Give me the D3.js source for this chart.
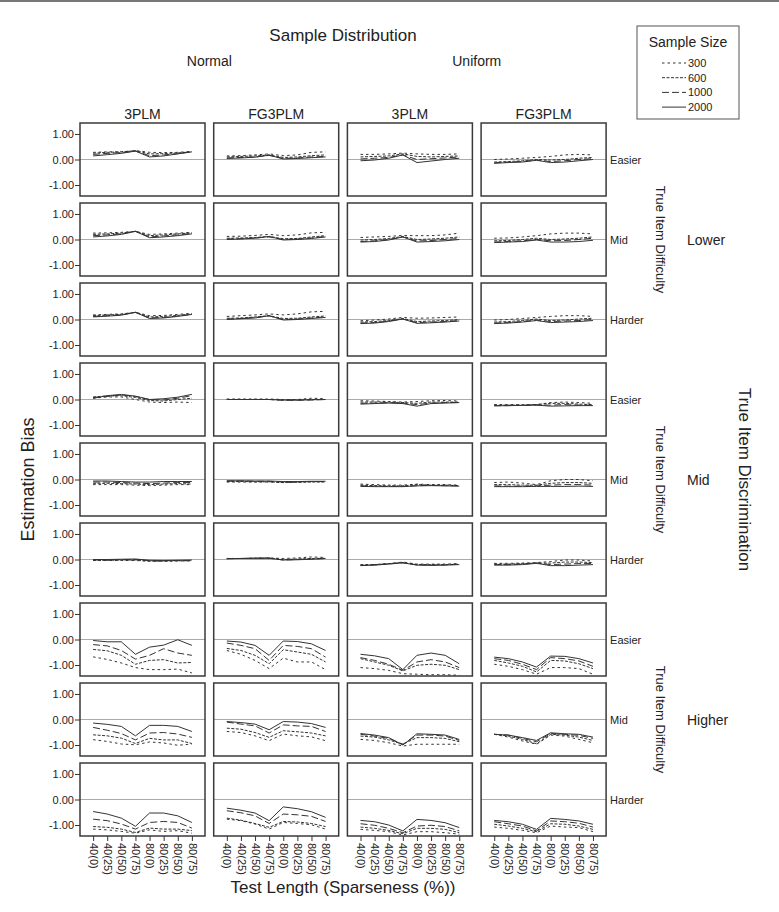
<!DOCTYPE html>
<html>
<head>
<meta charset="utf-8">
<script src="https://cdn.jsdelivr.net/npm/d3@7"></script>
<style>
  body { margin: 0; background: #fff; }
  svg { font-family: "Liberation Sans", Arial, sans-serif; }
</style>
</head>
<body>
<div id="chart"></div>
<script>
// categories
const testLengths = ["40(0)", "40(25)", "40(50)", "40(75)", "80(0)", "80(25)", "80(50)", "80(75)"];
const sampleSizes = ["300", "600", "1000", "2000"];
const distributions = ["Normal", "Uniform"];
const models = ["3PLM", "FG3PLM"];
const discriminations = ["Lower", "Mid", "Higher"];
const difficulties = ["Easier", "Mid", "Harder"];
const yTicks = [1, 0, -1];

// bias values: [Normal 3PLM, Normal FG3PLM, Uniform 3PLM, Uniform FG3PLM] x [300, 600, 1000, 2000] x testLengths
const lowerEasier = [
  [[0.28, 0.30, 0.30, 0.35, 0.28, 0.27, 0.28, 0.32], [0.25, 0.28, 0.30, 0.34, 0.22, 0.23, 0.26, 0.30], [0.20, 0.24, 0.27, 0.33, 0.15, 0.18, 0.23, 0.30], [0.14, 0.19, 0.24, 0.33, 0.10, 0.14, 0.22, 0.30]],
  [[0.14, 0.15, 0.18, 0.22, 0.15, 0.18, 0.28, 0.30], [0.10, 0.12, 0.14, 0.18, 0.08, 0.10, 0.15, 0.18], [0.06, 0.08, 0.10, 0.16, 0.04, 0.06, 0.10, 0.12], [0.04, 0.06, 0.09, 0.17, 0.02, 0.04, 0.07, 0.10]],
  [[0.20, 0.20, 0.22, 0.25, 0.22, 0.20, 0.20, 0.22], [0.10, 0.12, 0.14, 0.22, 0.12, 0.10, 0.12, 0.14], [0.02, 0.05, 0.08, 0.18, 0.00, 0.03, 0.06, 0.10], [-0.05, -0.02, 0.05, 0.18, -0.12, -0.06, 0.00, 0.05]],
  [[0.00, 0.02, 0.05, 0.08, 0.12, 0.18, 0.20, 0.18], [-0.10, -0.08, -0.05, 0.00, -0.02, 0.00, 0.05, 0.08], [-0.13, -0.10, -0.08, -0.02, -0.08, -0.05, 0.00, 0.03], [-0.15, -0.12, -0.10, -0.03, -0.12, -0.10, -0.05, 0.00]]
];
const lowerMid = [
  [[0.25, 0.26, 0.28, 0.32, 0.20, 0.22, 0.25, 0.28], [0.20, 0.22, 0.25, 0.32, 0.15, 0.18, 0.22, 0.26], [0.15, 0.18, 0.22, 0.32, 0.10, 0.14, 0.18, 0.24], [0.10, 0.14, 0.20, 0.32, 0.07, 0.10, 0.15, 0.22]],
  [[0.12, 0.13, 0.16, 0.20, 0.15, 0.18, 0.26, 0.28], [0.05, 0.06, 0.08, 0.12, 0.03, 0.04, 0.10, 0.15], [0.02, 0.03, 0.06, 0.10, 0.00, 0.02, 0.06, 0.12], [0.00, 0.02, 0.05, 0.12, -0.02, 0.00, 0.04, 0.10]],
  [[0.08, 0.10, 0.12, 0.16, 0.15, 0.15, 0.18, 0.25], [-0.02, 0.00, 0.04, 0.12, 0.00, 0.02, 0.05, 0.10], [-0.08, -0.05, 0.00, 0.10, -0.06, -0.04, 0.00, 0.04], [-0.10, -0.08, -0.02, 0.10, -0.10, -0.08, -0.05, 0.00]],
  [[0.05, 0.06, 0.10, 0.15, 0.22, 0.25, 0.25, 0.22], [-0.05, -0.04, 0.00, 0.05, 0.00, 0.02, 0.05, 0.10], [-0.10, -0.08, -0.05, 0.00, -0.05, -0.04, 0.00, 0.05], [-0.12, -0.10, -0.08, -0.02, -0.10, -0.10, -0.08, -0.03]]
];
const lowerHarder = [
  [[0.18, 0.20, 0.22, 0.28, 0.15, 0.16, 0.20, 0.24], [0.15, 0.18, 0.20, 0.28, 0.10, 0.12, 0.16, 0.22], [0.12, 0.15, 0.18, 0.28, 0.06, 0.08, 0.14, 0.20], [0.10, 0.13, 0.17, 0.28, 0.04, 0.06, 0.12, 0.20]],
  [[0.12, 0.15, 0.18, 0.22, 0.18, 0.22, 0.30, 0.32], [0.05, 0.06, 0.10, 0.15, 0.04, 0.05, 0.10, 0.14], [0.02, 0.04, 0.08, 0.14, 0.00, 0.02, 0.06, 0.10], [0.00, 0.03, 0.06, 0.15, -0.02, 0.00, 0.04, 0.08]],
  [[-0.05, -0.02, 0.02, 0.08, 0.05, 0.06, 0.08, 0.10], [-0.10, -0.08, -0.04, 0.04, -0.08, -0.06, -0.04, 0.00], [-0.14, -0.12, -0.06, 0.02, -0.12, -0.10, -0.08, -0.04], [-0.16, -0.14, -0.08, 0.02, -0.15, -0.13, -0.10, -0.06]],
  [[-0.02, 0.00, 0.04, 0.08, 0.12, 0.15, 0.15, 0.12], [-0.10, -0.08, -0.04, 0.02, -0.04, -0.02, 0.02, 0.05], [-0.14, -0.12, -0.08, -0.02, -0.08, -0.06, -0.04, 0.00], [-0.16, -0.14, -0.10, -0.04, -0.12, -0.10, -0.08, -0.04]]
];
const midEasier = [
  [[0.05, 0.10, 0.10, 0.00, -0.10, -0.12, -0.10, -0.12], [0.10, 0.14, 0.15, 0.08, -0.04, -0.06, 0.00, 0.05], [0.08, 0.12, 0.18, 0.12, 0.00, -0.02, 0.05, 0.15], [0.05, 0.15, 0.20, 0.13, 0.00, 0.03, 0.09, 0.20]],
  [[0.02, 0.02, 0.02, 0.02, 0.00, 0.00, 0.05, 0.03], [0.00, 0.00, 0.00, 0.00, -0.02, -0.02, 0.00, 0.00], [0.00, 0.00, 0.00, 0.00, -0.03, -0.03, -0.02, 0.00], [0.00, 0.00, 0.00, 0.00, -0.02, -0.02, -0.01, 0.00]],
  [[-0.05, -0.06, -0.08, -0.10, -0.08, -0.05, -0.04, -0.06], [-0.10, -0.10, -0.10, -0.12, -0.15, -0.10, -0.10, -0.10], [-0.15, -0.14, -0.12, -0.14, -0.20, -0.14, -0.12, -0.12], [-0.18, -0.16, -0.14, -0.16, -0.26, -0.16, -0.14, -0.12]],
  [[-0.20, -0.20, -0.20, -0.20, -0.12, -0.10, -0.12, -0.15], [-0.22, -0.22, -0.22, -0.20, -0.15, -0.15, -0.18, -0.20], [-0.24, -0.24, -0.23, -0.22, -0.22, -0.20, -0.22, -0.22], [-0.25, -0.24, -0.23, -0.22, -0.26, -0.25, -0.24, -0.24]]
];
const midMid = [
  [[-0.20, -0.20, -0.20, -0.22, -0.24, -0.22, -0.20, -0.20], [-0.15, -0.15, -0.16, -0.18, -0.20, -0.18, -0.16, -0.18], [-0.10, -0.10, -0.12, -0.14, -0.16, -0.14, -0.12, -0.12], [-0.06, -0.06, -0.08, -0.10, -0.10, -0.08, -0.08, -0.08]],
  [[-0.10, -0.10, -0.10, -0.10, -0.12, -0.10, -0.08, -0.08], [-0.08, -0.08, -0.09, -0.09, -0.12, -0.11, -0.10, -0.10], [-0.06, -0.06, -0.07, -0.07, -0.10, -0.09, -0.08, -0.08], [-0.05, -0.05, -0.06, -0.06, -0.08, -0.08, -0.07, -0.07]],
  [[-0.18, -0.20, -0.22, -0.22, -0.18, -0.20, -0.20, -0.22], [-0.22, -0.24, -0.25, -0.25, -0.20, -0.22, -0.22, -0.24], [-0.25, -0.26, -0.27, -0.27, -0.24, -0.23, -0.24, -0.25], [-0.27, -0.28, -0.28, -0.28, -0.25, -0.24, -0.25, -0.26]],
  [[-0.12, -0.10, -0.14, -0.20, -0.05, 0.00, 0.00, -0.05], [-0.20, -0.20, -0.22, -0.22, -0.15, -0.12, -0.12, -0.15], [-0.25, -0.26, -0.26, -0.25, -0.22, -0.20, -0.20, -0.22], [-0.28, -0.28, -0.28, -0.27, -0.27, -0.27, -0.26, -0.27]]
];
const midHarder = [
  [[-0.04, -0.04, -0.04, -0.04, -0.07, -0.07, -0.06, -0.05], [-0.03, -0.03, -0.02, -0.02, -0.06, -0.06, -0.05, -0.05], [-0.02, -0.02, -0.01, 0.00, -0.05, -0.05, -0.04, -0.04], [0.00, 0.00, 0.01, 0.02, -0.03, -0.04, -0.03, -0.02]],
  [[0.04, 0.04, 0.05, 0.06, 0.04, 0.06, 0.10, 0.08], [0.04, 0.04, 0.05, 0.06, 0.00, 0.02, 0.04, 0.05], [0.03, 0.04, 0.05, 0.05, -0.02, 0.00, 0.02, 0.04], [0.03, 0.04, 0.05, 0.05, -0.02, -0.01, 0.01, 0.04]],
  [[-0.20, -0.20, -0.16, -0.10, -0.18, -0.18, -0.18, -0.16], [-0.22, -0.20, -0.16, -0.12, -0.20, -0.20, -0.20, -0.18], [-0.23, -0.21, -0.17, -0.13, -0.21, -0.22, -0.21, -0.19], [-0.24, -0.22, -0.18, -0.13, -0.22, -0.23, -0.22, -0.20]],
  [[-0.15, -0.15, -0.14, -0.12, -0.08, -0.02, -0.02, -0.06], [-0.18, -0.18, -0.16, -0.14, -0.14, -0.10, -0.10, -0.12], [-0.20, -0.20, -0.18, -0.14, -0.20, -0.18, -0.16, -0.16], [-0.22, -0.22, -0.20, -0.15, -0.24, -0.24, -0.22, -0.20]]
];
const higherEasier = [
  [[-0.68, -0.78, -0.92, -1.10, -1.18, -1.18, -1.16, -1.31], [-0.39, -0.44, -0.62, -0.97, -0.82, -0.79, -0.92, -0.90], [-0.20, -0.25, -0.43, -0.77, -0.62, -0.36, -0.53, -0.62], [-0.04, -0.09, -0.09, -0.58, -0.30, -0.22, -0.01, -0.23]],
  [[-0.43, -0.58, -0.82, -1.14, -0.73, -0.88, -0.88, -1.18], [-0.35, -0.43, -0.62, -0.95, -0.40, -0.49, -0.58, -0.88], [-0.14, -0.23, -0.36, -0.82, -0.23, -0.27, -0.36, -0.69], [-0.06, -0.10, -0.23, -0.62, -0.06, -0.08, -0.17, -0.43]],
  [[-1.10, -1.14, -1.21, -1.34, -1.36, -1.38, -1.38, -1.40], [-0.75, -0.88, -1.01, -1.23, -1.01, -0.97, -1.01, -1.18], [-0.71, -0.82, -0.97, -1.21, -0.88, -0.79, -0.88, -1.10], [-0.58, -0.64, -0.75, -1.18, -0.62, -0.53, -0.62, -0.95]],
  [[-0.97, -1.05, -1.18, -1.36, -1.10, -1.10, -1.14, -1.36], [-0.82, -0.92, -1.05, -1.27, -0.82, -0.84, -0.95, -1.14], [-0.75, -0.82, -0.97, -1.18, -0.71, -0.75, -0.84, -1.05], [-0.69, -0.75, -0.88, -1.08, -0.65, -0.66, -0.75, -0.92]]
];
const higherMid = [
  [[-0.79, -0.86, -0.96, -0.99, -0.88, -0.92, -1.01, -0.96], [-0.60, -0.64, -0.73, -0.94, -0.74, -0.80, -0.80, -0.94], [-0.31, -0.42, -0.55, -0.80, -0.53, -0.51, -0.57, -0.70], [-0.14, -0.19, -0.27, -0.64, -0.23, -0.23, -0.27, -0.47]],
  [[-0.47, -0.51, -0.64, -0.83, -0.57, -0.64, -0.68, -0.83], [-0.34, -0.38, -0.51, -0.70, -0.44, -0.48, -0.53, -0.64], [-0.10, -0.18, -0.25, -0.53, -0.21, -0.25, -0.27, -0.47], [-0.08, -0.12, -0.18, -0.40, -0.08, -0.10, -0.16, -0.31]],
  [[-0.78, -0.82, -0.91, -1.04, -0.97, -0.97, -0.97, -0.97], [-0.65, -0.69, -0.80, -0.97, -0.71, -0.71, -0.74, -0.87], [-0.58, -0.65, -0.74, -0.97, -0.61, -0.61, -0.65, -0.82], [-0.55, -0.61, -0.71, -1.00, -0.56, -0.58, -0.61, -0.78]],
  [[-0.58, -0.69, -0.84, -0.97, -0.61, -0.65, -0.78, -0.91], [-0.58, -0.65, -0.78, -0.95, -0.58, -0.61, -0.69, -0.82], [-0.58, -0.61, -0.74, -0.87, -0.55, -0.58, -0.62, -0.74], [-0.58, -0.61, -0.71, -0.82, -0.52, -0.56, -0.58, -0.69]]
];
const higherHarder = [
  [[-1.16, -1.19, -1.25, -1.32, -1.19, -1.25, -1.22, -1.32], [-1.06, -1.09, -1.16, -1.29, -1.12, -1.16, -1.16, -1.22], [-0.77, -0.83, -0.96, -1.16, -0.90, -0.86, -0.90, -1.12], [-0.47, -0.57, -0.73, -1.05, -0.53, -0.53, -0.64, -0.90]],
  [[-0.77, -0.83, -0.96, -1.16, -0.90, -0.94, -0.99, -1.16], [-0.73, -0.81, -0.94, -1.09, -0.86, -0.88, -0.94, -1.06], [-0.44, -0.52, -0.64, -0.94, -0.57, -0.60, -0.66, -0.86], [-0.34, -0.42, -0.53, -0.83, -0.29, -0.36, -0.48, -0.70]],
  [[-1.17, -1.21, -1.26, -1.39, -1.26, -1.26, -1.30, -1.36], [-1.08, -1.13, -1.21, -1.34, -1.13, -1.13, -1.17, -1.30], [-0.95, -1.01, -1.13, -1.30, -1.04, -1.01, -1.06, -1.23], [-0.82, -0.87, -1.00, -1.23, -0.78, -0.82, -0.91, -1.10]],
  [[-1.08, -1.13, -1.21, -1.30, -1.04, -1.08, -1.10, -1.26], [-0.97, -1.04, -1.13, -1.26, -0.95, -0.97, -1.04, -1.17], [-0.87, -0.95, -1.04, -1.23, -0.84, -0.87, -0.93, -1.08], [-0.82, -0.87, -0.97, -1.17, -0.74, -0.78, -0.84, -0.97]]
];

const panelRows = [lowerEasier, lowerMid, lowerHarder, midEasier, midMid, midHarder, higherEasier, higherMid, higherHarder];

// layout
const width = 779, height = 912;
const panelW = 125, panelH = 73;
const left0 = 80, top0 = 123, colStep = 133.7, rowStep = 80;
const dashes = ["2.5,3", "3,1.5", "7,3", null];
const lineColor = "#333";

const svg = d3.select("#chart").append("svg")
  .attr("width", width)
  .attr("height", height);

// thin grey rule at the very top
svg.append("rect").attr("x", 0).attr("y", 0).attr("width", width).attr("height", 2).attr("fill", "#777");

const x = d3.scalePoint().domain(testLengths).range([0, panelW]).padding(0.93);
const y = d3.scaleLinear().domain([-1.43, 1.43]).range([panelH, 0]);

const line = d3.line()
  .x((d, i) => x(testLengths[i]))
  .y(d => y(d));

const nCols = distributions.length * models.length;

panelRows.forEach((rowData, r) => {
  for (let c = 0; c < nCols; c++) {
    const g = svg.append("g")
      .attr("transform", `translate(${left0 + c * colStep},${top0 + r * rowStep})`);

    g.append("rect")
      .attr("width", panelW).attr("height", panelH)
      .attr("fill", "#fff");

    // zero reference line
    g.append("line")
      .attr("x1", 0).attr("x2", panelW)
      .attr("y1", y(0)).attr("y2", y(0))
      .attr("stroke", "#aaa").attr("stroke-width", 1);

    g.selectAll(".series")
      .data(rowData[c])
      .join("path")
      .attr("class", "series")
      .attr("d", line)
      .attr("fill", "none")
      .attr("stroke", lineColor)
      .attr("stroke-width", 1)
      .attr("stroke-dasharray", (d, i) => dashes[i]);

    g.append("rect")
      .attr("width", panelW).attr("height", panelH)
      .attr("fill", "none")
      .attr("stroke", "#3a3a3a").attr("stroke-width", 1.5);

    // y axis on the first column
    if (c === 0) {
      const ay = g.append("g")
        .call(d3.axisLeft(y).tickValues(yTicks).tickSize(5).tickFormat(d => d.toFixed(2)));
      ay.select(".domain").remove();
      ay.selectAll("line").attr("stroke", "#333");
      ay.selectAll("text").style("font-size", "11px").attr("fill", "#222").attr("x", -6);
    }

    // x axis on the bottom row
    if (r === panelRows.length - 1) {
      const ax = g.append("g")
        .attr("transform", `translate(0,${panelH})`)
        .call(d3.axisBottom(x).tickSize(5));
      ax.select(".domain").remove();
      ax.selectAll("line").attr("stroke", "#333");
      ax.selectAll("text")
        .attr("transform", "rotate(90)")
        .attr("x", 7).attr("y", 0).attr("dy", "0.35em")
        .style("text-anchor", "start")
        .style("font-size", "11px")
        .attr("fill", "#222");
    }
  }

  // difficulty label on the right
  svg.append("text")
    .attr("x", left0 + (nCols - 1) * colStep + panelW + 4)
    .attr("y", top0 + r * rowStep + panelH / 2 + 4)
    .style("font-size", "11px").attr("fill", "#222")
    .text(difficulties[r % 3]);
});

// group labels on the right
discriminations.forEach((lab, k) => {
  const cy = top0 + (k * 3 + 1) * rowStep + panelH / 2;
  svg.append("text")
    .attr("transform", `translate(661,${cy}) rotate(90)`)
    .attr("dy", "0.35em")
    .attr("text-anchor", "middle")
    .style("font-size", "13px").attr("fill", "#222")
    .text("True Item Difficulty");
  svg.append("text")
    .attr("x", 687).attr("y", cy + 5)
    .style("font-size", "14px").attr("fill", "#222")
    .text(lab);
});

const gridMidY = top0 + ((panelRows.length - 1) * rowStep + panelH) / 2;
const gridMidX = left0 + ((nCols - 1) * colStep + panelW) / 2;

svg.append("text")
  .attr("transform", `translate(745,${gridMidY}) rotate(90)`)
  .attr("dy", "0.35em")
  .attr("text-anchor", "middle")
  .style("font-size", "17px").attr("fill", "#222")
  .text("True Item Discrimination");

svg.append("text")
  .attr("transform", `translate(28,${gridMidY}) rotate(-90)`)
  .attr("dy", "0.35em")
  .attr("text-anchor", "middle")
  .style("font-size", "18px").attr("fill", "#222")
  .text("Estimation Bias");

// top headers
svg.append("text")
  .attr("x", gridMidX).attr("y", 41)
  .attr("text-anchor", "middle")
  .style("font-size", "17px").attr("fill", "#222")
  .text("Sample Distribution");

distributions.forEach((dist, k) => {
  const cx = left0 + k * 2 * colStep + (colStep + panelW) / 2;
  svg.append("text")
    .attr("x", cx).attr("y", 66)
    .attr("text-anchor", "middle")
    .style("font-size", "14px").attr("fill", "#222")
    .text(dist);
  models.forEach((m, j) => {
    svg.append("text")
      .attr("x", left0 + (k * 2 + j) * colStep + panelW / 2).attr("y", 119)
      .attr("text-anchor", "middle")
      .style("font-size", "14px").attr("fill", "#222")
      .text(m);
  });
});

svg.append("text")
  .attr("x", gridMidX).attr("y", 893)
  .attr("text-anchor", "middle")
  .style("font-size", "17px").attr("fill", "#222")
  .text("Test Length (Sparseness (%))");

// legend
const legend = svg.append("g").attr("transform", "translate(637,26)");
legend.append("rect")
  .attr("width", 102).attr("height", 93)
  .attr("fill", "#fff").attr("stroke", "#555").attr("stroke-width", 1);
legend.append("text")
  .attr("x", 51).attr("y", 21)
  .attr("text-anchor", "middle")
  .style("font-size", "14px").attr("fill", "#222")
  .text("Sample Size");
sampleSizes.forEach((s, i) => {
  const ly = 37 + i * 14.7;
  legend.append("line")
    .attr("x1", 25).attr("x2", 49)
    .attr("y1", ly).attr("y2", ly)
    .attr("stroke", lineColor).attr("stroke-width", 1)
    .attr("stroke-dasharray", dashes[i]);
  legend.append("text")
    .attr("x", 51).attr("y", ly + 4)
    .style("font-size", "11px").attr("fill", "#222")
    .text(s);
});
</script>
</body>
</html>
